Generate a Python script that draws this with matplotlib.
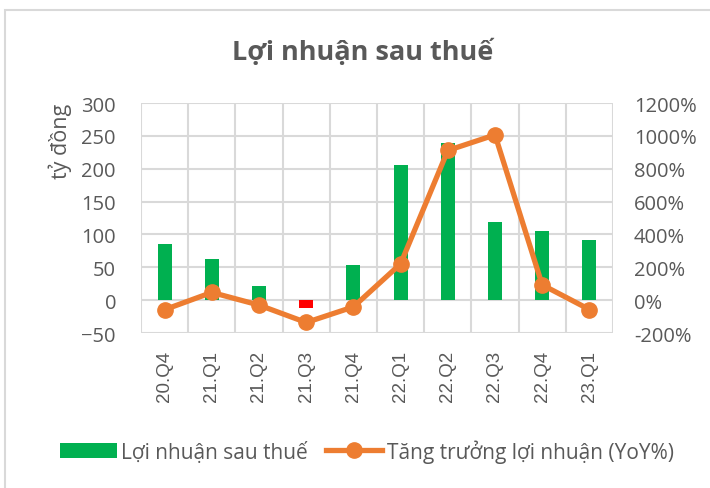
import numpy as np
import matplotlib.pyplot as plt
from matplotlib.patches import Rectangle
from matplotlib.ticker import FixedLocator

plt.rcParams['font.family'] = ['Open Sans', 'DejaVu Sans']

quarters = ['20.Q4', '21.Q1', '21.Q2', '21.Q3', '21.Q4', '22.Q1', '22.Q2', '22.Q3', '22.Q4', '23.Q1']
profit = [85, 62, 22, -12, 53, 206, 239, 119, 105, 91]
growth = [-58, 47, -30, -136, -41, 221, 911, 1006, 93, -57]

grey = '#595959'
green = '#00B050'
orange = '#ED7D31'
gridc = '#D9D9D9'

fig = plt.figure(figsize=(7.1, 4.89), dpi=100)
# outer chart border (cut off at right and bottom like the screenshot)
fig.patches.append(Rectangle((5 / 710, -0.1), 1.2, 1 - 11 / 489 + 0.1, transform=fig.transFigure,
                             fill=False, edgecolor=gridc, linewidth=1.5))

ax = fig.add_axes([141 / 710, 1 - 334 / 489, 472 / 710, 230 / 489])
x = np.arange(len(quarters))
colours = [green if v >= 0 else '#FF0000' for v in profit]
ax.bar(x, profit, width=0.3, color=colours, zorder=3, label='Lợi nhuận sau thuế')

ax.set_ylim(-50, 300)
ax.set_yticks(np.arange(-50, 301, 50))
ax.set_xlim(-0.5, len(quarters) - 0.5)
ax.set_xticks(x)
ax.set_xticklabels(quarters, rotation=90, fontsize=13.5, color=grey, family='Liberation Sans')
ax.xaxis.set_minor_locator(FixedLocator(np.arange(-0.5, len(quarters), 1)))
ax.tick_params(axis='x', which='both', length=0, pad=12)
ax.tick_params(axis='y', length=0, labelsize=14.5, labelcolor=grey, pad=18)
ax.grid(axis='y', color=gridc, linewidth=1.5, zorder=0)
ax.grid(axis='x', which='minor', color=gridc, linewidth=1.5, zorder=0)
for s in ax.spines.values():
    s.set_visible(False)
ax.set_ylabel('tỷ đồng', fontsize=15.5, color=grey, loc='top')
ax.yaxis.set_label_coords(-0.146, 1.0)
fig.text(363 / 710, 1 - 52 / 489, 'Lợi nhuận sau thuế', fontsize=19.5, fontweight='bold',
         color=grey, ha='center', va='center')

ax2 = ax.twinx()
ax2.plot(x, growth, color=orange, linewidth=3.8, marker='o', markersize=11, zorder=4,
         label='Tăng trưởng lợi nhuận (YoY%)')
ax2.set_ylim(-200, 1200)
ax2.set_yticks(np.arange(-200, 1201, 200))
ax2.set_yticklabels([f'{v}%' for v in range(-200, 1201, 200)])
ax2.tick_params(axis='y', length=0, labelsize=14.5, labelcolor=grey, pad=15)
for s in ax2.spines.values():
    s.set_visible(False)

h1, l1 = ax.get_legend_handles_labels()
h2, l2 = ax2.get_legend_handles_labels()
fig.legend(h1 + h2, l1 + l2, loc='center', bbox_to_anchor=(367 / 710, 1 - 452 / 489), ncol=2,
           frameon=False, fontsize=15, labelcolor=grey, handlelength=2.7, handletextpad=0.2,
           columnspacing=0.9)

fig.savefig('out.png', dpi=100)
